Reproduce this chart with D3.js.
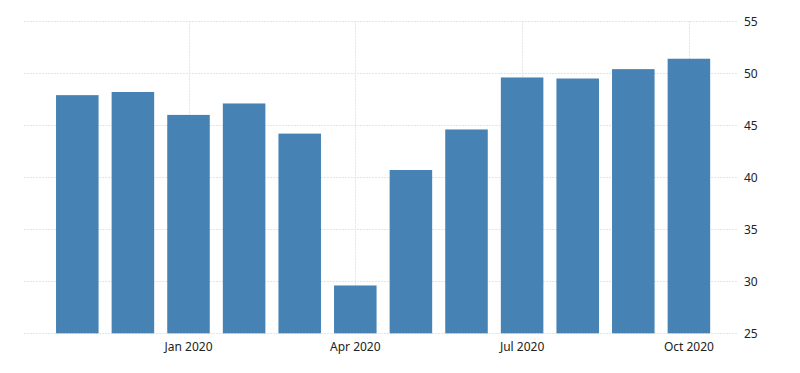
<!DOCTYPE html>
<html>
<head>
<meta charset="utf-8">
<script src="https://cdnjs.cloudflare.com/ajax/libs/d3/7.8.5/d3.min.js"></script>
<style>
  body { margin: 0; background: #fff; }
  .axis text { font-family: "Noto Sans", sans-serif; font-size: 12px; fill: #222; }
  .axis path { display: none; }
  .grid line { stroke: #e4e4e4; stroke-dasharray: 2,1; }
</style>
</head>
<body>
<div id="chart"></div>
<script>
var months = ["2019-11", "2019-12", "2020-01", "2020-02", "2020-03", "2020-04",
  "2020-05", "2020-06", "2020-07", "2020-08", "2020-09", "2020-10"];
var values = [47.9, 48.2, 46.0, 47.1, 44.2, 29.6, 40.7, 44.6, 49.6, 49.5, 50.4, 51.4];
var tickMonths = ["2020-01", "2020-04", "2020-07", "2020-10"];
var tickLabels = ["Jan 2020", "Apr 2020", "Jul 2020", "Oct 2020"];
var yTicks = [25, 30, 35, 40, 45, 50, 55];

var w = 800;
var h = 373;
var left = 24;
var right = 738;

var xScale = d3
  .scaleBand()
  .domain(months)
  .range([49.5, 716.7])
  .paddingInner(0.235)
  .paddingOuter(0.1175);

var yScale = d3
  .scaleLinear()
  .domain([25, 55])
  .range([333.3, 21.3]);

var svg = d3
  .select("#chart")
  .append("svg")
  .attr("width", w)
  .attr("height", h);

//horizontal grid
svg
  .append("g")
  .attr("class", "grid")
  .selectAll("line")
  .data(yTicks)
  .enter()
  .append("line")
  .attr("x1", left)
  .attr("x2", right)
  .attr("y1", (d) => Math.round(yScale(d)) + 0.5)
  .attr("y2", (d) => Math.round(yScale(d)) + 0.5);

//vertical grid at labelled months
svg
  .append("g")
  .attr("class", "grid")
  .selectAll("line")
  .data(tickMonths)
  .enter()
  .append("line")
  .attr("x1", (d) => Math.round(xScale(d) + xScale.bandwidth() / 2) + 0.5)
  .attr("x2", (d) => Math.round(xScale(d) + xScale.bandwidth() / 2) + 0.5)
  .attr("y1", yScale(55))
  .attr("y2", yScale(25));

svg
  .selectAll("rect")
  .data(values)
  .enter()
  .append("rect")
  .attr("x", (d, i) => xScale(months[i]))
  .attr("y", (d) => yScale(d))
  .attr("width", xScale.bandwidth())
  .attr("height", (d) => yScale(25) - yScale(d))
  .style("fill", "#4682b4");

var xAxis = d3
  .axisBottom(xScale)
  .tickValues(tickMonths)
  .tickSize(0)
  .tickPadding(9)
  .tickFormat((d) => tickLabels[tickMonths.indexOf(d)]);

svg
  .append("g")
  .attr("class", "axis")
  .attr("transform", "translate(0," + yScale(25) + ")")
  .call(xAxis);

var yAxis = d3.axisRight(yScale).tickValues(yTicks).tickSize(0).tickPadding(0);

svg
  .append("g")
  .attr("class", "axis")
  .attr("transform", "translate(744,0)")
  .call(yAxis);
</script>
</body>
</html>
